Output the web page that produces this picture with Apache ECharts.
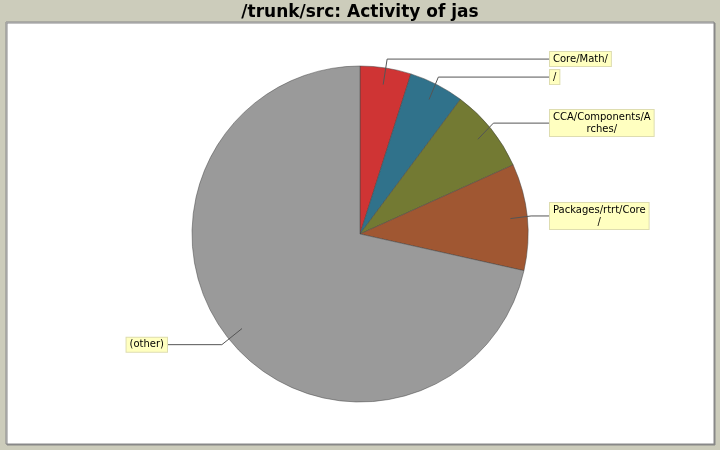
<!doctype html>
<html>
    <head>
        <meta charset="utf-8">
        <style>
            html, body { margin: 0; padding: 0; background: #ccccbb; }
            #main { width: 720px; height: 450px; }
        </style>
    </head>
    <body>
        <div id="main"></div>
        <script src="https://cdn.jsdelivr.net/npm/echarts@6/dist/echarts.min.js"></script>
        <script>
            var chart = echarts.init(document.getElementById('main'));

            var titleText = '/trunk/src: Activity of jas';
            var names = ['Core/Math/', '/', 'CCA/Components/Arches/', 'Packages/rtrt/Core/', '(other)'];
            // how the labels wrap in the picture
            var labelText = ['Core/Math/', '/', 'CCA/Components/A\nrches/', 'Packages/rtrt/Core\n/', '(other)'];
            var values = [4.9, 5.3, 8.05, 10.25, 71.5];
            var colors = ['#cf3434', '#30728b', '#737a33', '#a05732', '#9a9a9a'];

            var cy = 234;
            var radius = 168;

            var slices = names.map(function (n, i) {
                return { name: n, value: values[i], itemStyle: { color: colors[i] } };
            });
            // same slices again, invisible, only to carry the labels above the pie
            var labelSlices = names.map(function (n, i) {
                return { name: n, value: values[i] };
            });

            chart.setOption({
                backgroundColor: '#ccccbb',
                animation: false,
                title: {
                    text: titleText,
                    left: 'center',
                    top: -1,
                    textStyle: {
                        fontFamily: 'DejaVu Sans',
                        fontWeight: 'bold',
                        fontSize: 17,
                        color: '#000'
                    }
                },
                graphic: [{
                    type: 'rect',
                    z: -10,
                    shape: { x: 6, y: 22, width: 708, height: 422 },
                    style: {
                        fill: '#fff',
                        stroke: '#888',
                        lineWidth: 1,
                        shadowColor: '#888',
                        shadowOffsetX: 1,
                        shadowOffsetY: 1
                    }
                }],
                series: [{
                    type: 'pie',
                    center: ['50%', cy],
                    radius: radius,
                    startAngle: 90,
                    clockwise: true,
                    silent: true,
                    data: slices,
                    itemStyle: {
                        borderColor: '#444',
                        borderWidth: 0.5
                    },
                    label: { show: false },
                    labelLine: { show: false }
                }, {
                    type: 'pie',
                    z: 5,
                    center: ['50%', cy],
                    radius: radius,
                    startAngle: 90,
                    clockwise: true,
                    silent: true,
                    data: labelSlices,
                    itemStyle: {
                        color: 'rgba(0,0,0,0)',
                        borderWidth: 0
                    },
                    label: {
                        show: true,
                        formatter: function (p) { return labelText[p.dataIndex]; },
                        fontFamily: 'DejaVu Sans',
                        fontSize: 10,
                        lineHeight: 12,
                        color: '#000',
                        backgroundColor: '#ffffc0',
                        borderColor: '#deddb0',
                        borderWidth: 1,
                        padding: [1, 3, 1, 3]
                    },
                    labelLine: {
                        show: true,
                        showAbove: true,
                        length: 9,
                        length2: 10,
                        lineStyle: { color: '#555', width: 1 }
                    },
                    labelLayout: function (params) {
                        var pts = params.labelLinePoints;
                        if (!pts) return;
                        var cx = chart.getWidth() / 2;
                        var isLeft = pts[2][0] < cx;
                        // start the leader inside the slice
                        var p0 = [cx + (pts[0][0] - cx) * 0.9, cy + (pts[0][1] - cy) * 0.9];
                        var endX = isLeft ? cx - 192 : cx + 189;
                        var w = params.labelRect.width;
                        return {
                            x: endX + (isLeft ? -w / 2 : w / 2),
                            y: pts[1][1],
                            align: 'center',
                            verticalAlign: 'middle',
                            labelLinePoints: [p0, pts[1], [endX, pts[1][1]]]
                        };
                    }
                }]
            });

            window.onresize = chart.resize;
        </script>
    </body>
</html>
